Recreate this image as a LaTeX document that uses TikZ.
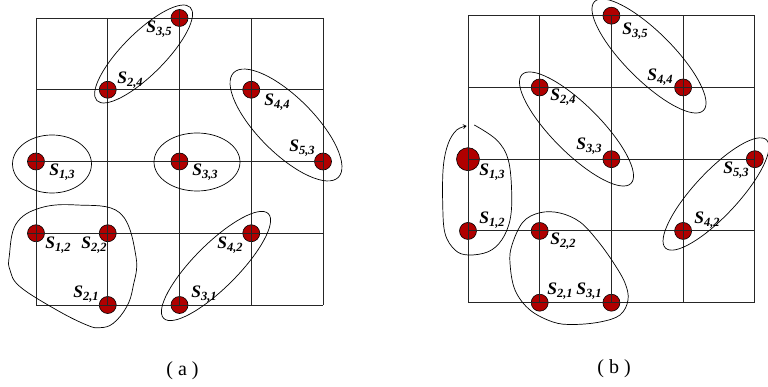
\documentclass[tikz,border=0pt]{standalone}
\usepackage{fontspec}
\setmainfont{Liberation Serif}
\usetikzlibrary{arrows.meta}
\definecolor{dotred}{HTML}{B00000}
\newcommand{\slab}[2]{\bfseries\itshape S\raisebox{-0.45ex}{\fontsize{12.5}{12.5}\selectfont #1,#2}}
\tikzset{
  dot/.style={circle,draw=black,line width=0.6pt,fill=dotred,minimum size=17pt,inner sep=0pt},
  bigdot/.style={dot,minimum size=23pt},
  lab/.style={inner sep=0pt,font=\fontsize{17.5}{17.5}\selectfont},
  gridline/.style={line width=0.9pt,black!85},
  loop/.style={line width=0.7pt,black},
  captxt/.style={inner sep=0pt,font=\fontsize{20}{20}\selectfont}
}
\begin{document}
\begin{tikzpicture}[x=1pt,y=-1pt]
\useasboundingbox (0,0) rectangle (768,387);
% ---------------- (a) ----------------
\node[dot] (a35) at (179.5,18) {};
\node[dot] (a24) at (107.75,89.75) {};
\node[dot] (a44) at (251.25,89.75) {};
\node[dot] (a13) at (36,161.5) {};
\node[dot] (a33) at (179.5,161.5) {};
\node[dot] (a53) at (323,161.5) {};
\node[dot] (a12) at (36,233.25) {};
\node[dot] (a22) at (107.75,233.25) {};
\node[dot] (a42) at (251.25,233.25) {};
\node[dot] (a21) at (107.75,305) {};
\node[dot] (a31) at (179.5,305) {};
\foreach \x in {36,107.75,179.5,251.25,323} \draw[gridline] (\x,18) -- (\x,305);
\foreach \y in {18,89.75,161.5,233.25,305} \draw[gridline] (36,\y) -- (323,\y);
\draw[gridline] (28,161.5) -- (36,161.5);
\draw[gridline] (28,233.25) -- (36,233.25);
\draw[gridline] (179.5,10) -- (179.5,18);
\node[lab] (la35) at (159,29) {\slab{3}{5}};
\node[lab] (la24) at (130,80) {\slab{2}{4}};
\node[lab] (la44) at (277,102) {\slab{4}{4}};
\node[lab] (la13) at (62,172) {\slab{1}{3}};
\node[lab] (la33) at (205,172) {\slab{3}{3}};
\node[lab] (la53) at (302,148) {\slab{5}{3}};
\node[lab] (la12) at (58,245) {\slab{1}{2}};
\node[lab] (la22) at (94,245) {\slab{2}{2}};
\node[lab] (la42) at (230,245) {\slab{4}{2}};
\node[lab] (la21) at (86,294) {\slab{2}{1}};
\node[lab] (la31) at (204,294) {\slab{3}{1}};
\coordinate (ea1) at (143.6,54);
\coordinate (ea2) at (52,164);
\coordinate (ea3) at (197,162);
\coordinate (ea4) at (286,125);
\coordinate (ea5) at (216,266);
\draw[loop,rotate around={45:(ea1)}] (ea1) ellipse [x radius=66pt,y radius=21pt];
\draw[loop] (ea2) ellipse [x radius=39.5pt,y radius=29pt];
\draw[loop] (ea3) ellipse [x radius=43pt,y radius=29pt];
\draw[loop,rotate around={-45:(ea4)}] (ea4) ellipse [x radius=74pt,y radius=28pt];
\draw[loop,rotate around={45:(ea5)}] (ea5) ellipse [x radius=74pt,y radius=22pt];
\draw[loop] plot[smooth cycle,tension=0.65] coordinates {
 (9.3,256) (16,224) (40,208) (76.7,205) (120,213) (136,256.7) (133,287)
 (126.7,306.7) (113.3,323.3) (100,327.7) (86.7,325) (56.7,310) (20,286.7) (10,270)};
\node[captxt] (capa) at (182.5,371) {( a )};
% ---------------- (b) ----------------
\node[dot] (b35) at (611.4,15.7) {};
\node[dot] (b24) at (539.7,87.45) {};
\node[dot] (b44) at (683.1,87.45) {};
\node[bigdot] (b13) at (468,159.2) {};
\node[dot] (b33) at (611.4,159.2) {};
\node[dot] (b53) at (754.8,159.2) {};
\node[dot] (b12) at (468,230.95) {};
\node[dot] (b22) at (539.7,230.95) {};
\node[dot] (b42) at (683.1,230.95) {};
\node[dot] (b21) at (539.7,302.7) {};
\node[dot] (b31) at (611.4,302.7) {};
\foreach \x in {468,539.7,611.4,683.1,754.8} \draw[gridline] (\x,15.7) -- (\x,302.7);
\foreach \y in {15.7,87.45,159.2,230.95,302.7} \draw[gridline] (468,\y) -- (754.8,\y);
\node[lab] (lb35) at (635,31) {\slab{3}{5}};
\node[lab] (lb24) at (563,97) {\slab{2}{4}};
\node[lab] (lb44) at (660,77) {\slab{4}{4}};
\node[lab] (lb33) at (589,146) {\slab{3}{3}};
\node[lab] (lb13) at (492,172) {\slab{1}{3}};
\node[lab] (lb53) at (736,170) {\slab{5}{3}};
\node[lab] (lb12) at (492,220) {\slab{1}{2}};
\node[lab] (lb22) at (563,241) {\slab{2}{2}};
\node[lab] (lb42) at (707,220) {\slab{4}{2}};
\node[lab] (lb21) at (560,291) {\slab{2}{1}};
\node[lab] (lb31) at (589,291) {\slab{3}{1}};
\coordinate (eb1) at (649,56);
\coordinate (eb2) at (576.5,129);
\coordinate (eb3) at (716,194);
\draw[loop,rotate around={-45:(eb1)}] (eb1) ellipse [x radius=77pt,y radius=24pt];
\draw[loop,rotate around={-45:(eb2)}] (eb2) ellipse [x radius=77pt,y radius=24pt];
\draw[loop,rotate around={47:(eb3)}] (eb3) ellipse [x radius=74pt,y radius=22pt];
\draw[loop] plot[smooth cycle,tension=0.6] coordinates {
 (540,212.7) (523,222) (512,245) (510,263) (515,290) (530,310) (553,322)
 (573,324.5) (600,322) (620,315) (628,300) (625,283) (613,262) (597,240)
 (580,222) (560,213)};
\draw[loop,-{Straight Barb[length=3pt,width=4pt]}] plot[smooth,tension=0.6] coordinates {
 (474.3,125) (496.7,140) (508.3,160) (511.7,193.3) (510,220) (501.7,240)
 (488.3,251.7) (468.3,255) (455,250) (445,233.3) (442.7,203.3) (443.3,166.7)
 (448.3,143.3) (456.7,130) (466.7,126)};
\node[captxt] (capb) at (614,369) {( b )};
\end{tikzpicture}
\end{document}
